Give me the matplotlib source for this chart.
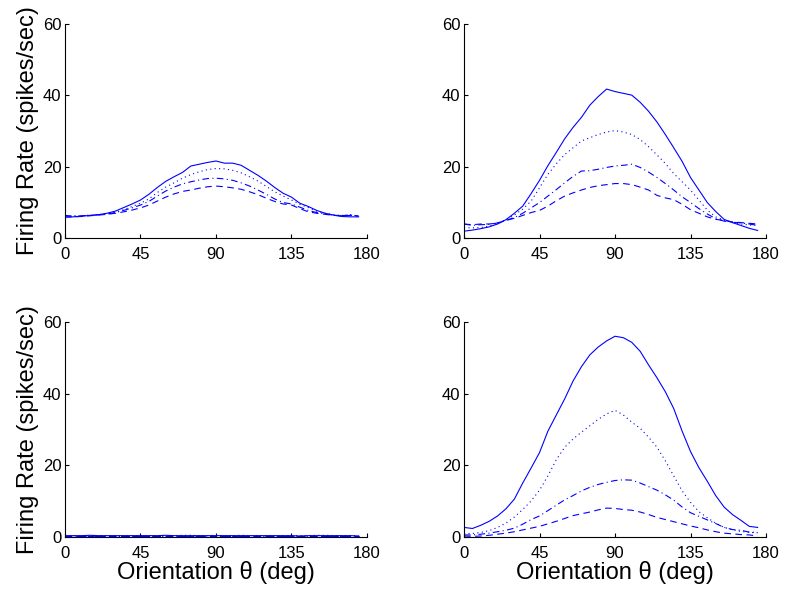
import numpy as np
import matplotlib
matplotlib.use("Agg")
import matplotlib.pyplot as plt

plt.rcParams['font.family'] = ['Liberation Sans', 'DejaVu Sans']

# orientation samples (deg)
theta = np.arange(0, 180, 5)

# top left panel
tl_solid = [5.9, 6.0, 6.2, 6.4, 6.6, 7.0, 7.6, 8.6, 9.6, 10.7, 12.3, 14.2, 15.9, 17.2, 18.4, 20.2, 20.7, 21.2,
            21.6, 21.0, 21.0, 20.4, 19.0, 17.6, 16.0, 14.2, 12.6, 11.5, 9.8, 8.9, 7.8, 7.0, 6.5, 6.1, 6.0, 6.0]
tl_dot = [6.2, 6.2, 6.3, 6.5, 6.6, 6.9, 7.3, 8.0, 8.9, 9.8, 11.0, 12.8, 14.3, 15.5, 16.8, 17.8, 18.6, 19.2,
          19.5, 19.4, 19.0, 18.3, 17.2, 16.0, 14.5, 13.0, 11.8, 10.7, 9.5, 8.6, 7.6, 7.0, 6.6, 6.4, 6.5, 6.3]
tl_dashdot = [6.4, 6.2, 6.3, 6.4, 6.6, 6.8, 7.2, 7.8, 8.5, 9.3, 10.3, 11.8, 13.2, 14.3, 15.2, 15.8, 16.3, 16.7,
              16.8, 16.6, 16.2, 15.5, 14.6, 13.5, 12.3, 11.0, 10.0, 9.6, 8.7, 7.8, 7.2, 6.8, 6.5, 6.3, 6.6, 6.2]
tl_dash = [6.0, 6.0, 6.1, 6.3, 6.5, 6.7, 7.0, 7.4, 7.9, 8.5, 9.3, 10.4, 11.5, 12.4, 13.1, 13.5, 14.0, 14.4,
           14.6, 14.4, 14.1, 13.7, 13.0, 12.2, 11.2, 10.3, 9.6, 9.3, 8.3, 7.4, 7.0, 6.7, 6.4, 6.3, 6.4, 6.2]

# top right panel
tr_solid = [2.0, 2.3, 2.7, 3.2, 4.0, 5.2, 7.0, 9.0, 12.5, 16.2, 20.3, 24.0, 27.8, 31.0, 33.8, 37.2, 39.6, 41.7,
            41.0, 40.5, 40.0, 38.0, 35.5, 32.5, 29.0, 25.3, 21.5, 17.0, 13.5, 10.0, 7.5, 5.3, 4.4, 3.6, 2.8, 2.2]
tr_dot = [3.0, 2.9, 3.0, 3.4, 4.2, 5.2, 6.5, 8.2, 10.4, 14.1, 17.9, 20.8, 23.4, 25.3, 27.2, 28.1, 29.0, 29.7,
          30.1, 29.7, 29.0, 27.6, 25.6, 23.3, 20.9, 18.1, 15.8, 13.5, 10.7, 7.9, 6.0, 5.1, 4.4, 4.0, 3.7, 3.7]
tr_dashdot = [4.0, 3.6, 3.8, 3.9, 4.3, 5.0, 5.8, 7.0, 8.5, 10.0, 11.8, 13.6, 15.5, 17.3, 18.8, 18.9, 19.3, 19.8,
              20.2, 20.4, 20.7, 19.8, 18.5, 17.0, 15.3, 13.5, 11.6, 10.0, 8.3, 6.8, 5.5, 4.8, 4.5, 4.3, 4.0, 3.6]
tr_dash = [4.0, 3.8, 4.0, 4.0, 4.3, 5.0, 5.6, 6.4, 7.2, 7.8, 9.0, 10.5, 11.8, 12.7, 13.5, 14.2, 14.7, 15.0,
           15.3, 15.3, 15.0, 14.3, 13.5, 12.0, 11.3, 10.8, 9.5, 8.0, 7.0, 6.0, 5.3, 5.0, 4.6, 4.4, 4.2, 4.0]

# bottom left panel (almost silent)
bl_solid = [0.3, 0.3, 0.3, 0.4, 0.3, 0.3, 0.3, 0.3, 0.3, 0.3, 0.3, 0.3, 0.4, 0.3, 0.3, 0.3, 0.3, 0.3,
            0.3, 0.3, 0.3, 0.3, 0.3, 0.3, 0.3, 0.3, 0.3, 0.3, 0.2, 0.3, 0.3, 0.3, 0.3, 0.3, 0.3, 0.2]
bl_dot = [0.3, 0.3, 0.3, 0.3, 0.3, 0.3, 0.3, 0.3, 0.3, 0.3, 0.3, 0.3, 0.3, 0.3, 0.4, 0.4, 0.3, 0.3,
          0.4, 0.3, 0.3, 0.4, 0.3, 0.3, 0.3, 0.3, 0.3, 0.3, 0.3, 0.3, 0.4, 0.4, 0.3, 0.3, 0.3, 0.3]
bl_dashdot = [0.3, 0.3, 0.3, 0.3, 0.3, 0.3, 0.3, 0.3, 0.3, 0.3, 0.3, 0.3, 0.3, 0.3, 0.3, 0.3, 0.3, 0.3,
              0.3, 0.3, 0.3, 0.3, 0.3, 0.3, 0.3, 0.3, 0.3, 0.3, 0.3, 0.3, 0.3, 0.3, 0.3, 0.3, 0.3, 0.3]
bl_dash = [0.3, 0.3, 0.3, 0.3, 0.3, 0.3, 0.3, 0.3, 0.3, 0.3, 0.3, 0.3, 0.3, 0.3, 0.3, 0.3, 0.3, 0.3,
           0.3, 0.3, 0.3, 0.3, 0.3, 0.3, 0.3, 0.3, 0.3, 0.3, 0.3, 0.3, 0.3, 0.3, 0.3, 0.3, 0.3, 0.3]

# bottom right panel
br_solid = [2.6, 2.3, 3.2, 4.3, 5.8, 7.8, 10.5, 15.0, 19.2, 23.5, 29.5, 34.0, 38.5, 43.5, 47.5, 50.8, 53.0, 54.7,
            56.0, 55.6, 54.3, 51.8, 48.0, 44.4, 40.5, 35.8, 29.5, 23.8, 19.3, 15.5, 11.5, 8.3, 6.2, 4.6, 2.9, 2.6]
br_dot = [0.9, 0.9, 1.2, 1.7, 2.6, 3.8, 5.5, 7.6, 10.0, 13.0, 17.0, 21.5, 25.0, 27.3, 29.2, 31.0, 32.8, 34.3,
          35.3, 34.0, 32.0, 30.3, 27.8, 25.0, 21.2, 17.0, 12.8, 9.6, 7.0, 5.3, 3.8, 2.6, 2.0, 1.5, 1.2, 1.1]
br_dashdot = [0.5, 0.5, 0.7, 1.0, 1.4, 1.8, 2.4, 3.5, 4.8, 5.8, 7.3, 8.8, 10.3, 11.5, 12.8, 13.8, 14.6, 15.2,
              15.7, 15.9, 15.8, 15.0, 14.0, 13.0, 11.7, 10.2, 8.3, 6.7, 5.7, 4.7, 3.7, 2.6, 2.0, 1.8, 1.3, 1.2]
br_dash = [0.2, 0.1, 0.2, 0.4, 0.7, 1.0, 1.4, 1.9, 2.4, 2.9, 3.6, 4.3, 5.1, 5.9, 6.4, 6.9, 7.5, 8.0,
           7.9, 7.6, 7.4, 6.9, 6.2, 5.4, 4.8, 4.2, 3.6, 3.0, 2.5, 1.9, 1.4, 1.0, 0.8, 0.6, 0.5, 0.2]

panels = [
    [tl_solid, tl_dot, tl_dashdot, tl_dash],
    [tr_solid, tr_dot, tr_dashdot, tr_dash],
    [bl_solid, bl_dot, bl_dashdot, bl_dash],
    [br_solid, br_dot, br_dashdot, br_dash],
]
styles = ['-', (0, (1, 3)), (0, (6, 3, 1, 3)), (0, (6, 4))]

fig = plt.figure(figsize=(7.85, 5.93), dpi=100)

# axes boxes [left, bottom, width, height] in figure fractions
lefts = [0.0828, 0.5911, 0.0828, 0.5911]
bottoms = [0.5981, 0.5981, 0.0949, 0.0949]
w, h = 0.3847, 0.3622

for i, curves in enumerate(panels):
    ax = fig.add_axes([lefts[i], bottoms[i], w, h])
    for y, ls in zip(curves, styles):
        ax.plot(theta, y, color='#0000ff', linestyle=ls, linewidth=0.8)
    ax.set_xlim(0, 180)
    ax.set_ylim(0, 60)
    ax.set_xticks([0, 45, 90, 135, 180])
    ax.set_yticks([0, 20, 40, 60])
    ax.spines['top'].set_visible(False)
    ax.spines['right'].set_visible(False)
    ax.spines['left'].set_linewidth(0.8)
    ax.spines['bottom'].set_linewidth(0.8)
    ax.tick_params(direction='in', length=3, width=0.8, labelsize=12)
    ax.tick_params(axis='x', pad=6.5)
    ax.tick_params(axis='y', pad=2.5)
    if i % 2 == 0:
        ax.set_ylabel('Firing Rate (spikes/sec)', fontsize=17, labelpad=3)
    if i >= 2:
        ax.set_xlabel('Orientation θ (deg)', fontsize=17, labelpad=0)

fig.savefig('out.png', dpi=100)
